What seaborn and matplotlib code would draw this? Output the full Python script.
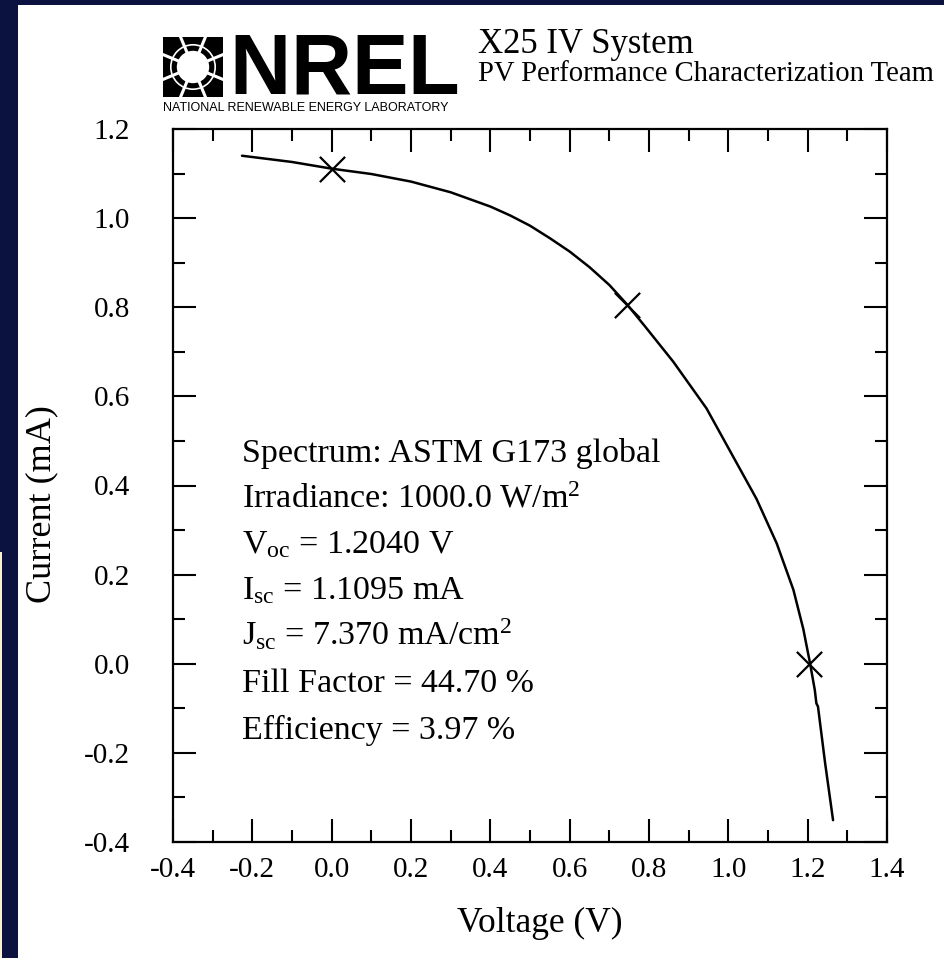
import numpy as np
import pandas as pd
import matplotlib
matplotlib.use("Agg")
import matplotlib.pyplot as plt
import seaborn as sns
from matplotlib.patches import Rectangle, Circle
from matplotlib.ticker import MultipleLocator, FormatStrFormatter

# ---------------- data ----------------
voltage = [-0.226, -0.100, 0.000, 0.100, 0.200, 0.300, 0.400, 0.450, 0.500,
           0.550, 0.600, 0.650, 0.700, 0.745, 0.790, 0.861, 0.945, 1.012,
           1.071, 1.122, 1.164, 1.189, 1.206, 1.218, 1.222, 1.226, 1.244,
           1.264]
current = [1.140, 1.126, 1.111, 1.099, 1.082, 1.058, 1.026, 1.006, 0.983,
           0.955, 0.925, 0.890, 0.850, 0.806, 0.757, 0.678, 0.573, 0.465,
           0.370, 0.270, 0.166, 0.078, 0.001, -0.059, -0.089, -0.096,
           -0.223, -0.351]

marker_v = [0.0, 0.745, 1.204]      # Isc, Pmax, Voc points
marker_i = [1.1095, 0.805, 0.0]

x_ticks = [-0.4, -0.2, 0.0, 0.2, 0.4, 0.6, 0.8, 1.0, 1.2, 1.4]
y_ticks = [-0.4, -0.2, 0.0, 0.2, 0.4, 0.6, 0.8, 1.0, 1.2]

info_lines = [
    "Spectrum: ASTM G173 global",
    r"Irradiance: 1000.0 W/m$^{2}$",
    r"V$_{\mathrm{oc}}$ = 1.2040 V",
    r"I$_{\mathrm{sc}}$ = 1.1095 mA",
    r"J$_{\mathrm{sc}}$ = 7.370 mA/cm$^{2}$",
    "Fill Factor = 44.70 %",
    "Efficiency = 3.97 %",
]
info_baselines = [462, 507, 553, 599, 645, 692, 739]   # pixel rows

# ---------------- style ----------------
sns.set_theme(style="ticks")
plt.rcParams["font.family"] = ["Liberation Serif", "DejaVu Serif"]
plt.rcParams["mathtext.fontset"] = "custom"
plt.rcParams["mathtext.rm"] = "Liberation Serif"
plt.rcParams["mathtext.it"] = "Liberation Serif:italic"
plt.rcParams["mathtext.bf"] = "Liberation Serif:bold"
plt.rcParams["mathtext.sf"] = "Liberation Sans:bold"
plt.rcParams["axes.unicode_minus"] = False

W, H = 944, 958
navy = "#0b1240"
fig = plt.figure(figsize=(W / 100, H / 100), dpi=100)
fig.patch.set_facecolor("white")

def fx(px):
    return px / W

def fy(py):
    return 1 - py / H

# dark frame strips
fig.add_artist(Rectangle((0, 0), fx(17.5), 1, transform=fig.transFigure,
                         facecolor=navy, edgecolor="none", zorder=0))
fig.add_artist(Rectangle((0, fy(5)), 1, 5 / H, transform=fig.transFigure,
                         facecolor=navy, edgecolor="none", zorder=0))
fig.add_artist(Rectangle((0, 0), fx(1.5), fy(552), transform=fig.transFigure,
                         facecolor="#f7f1d2", edgecolor="none", zorder=1))

# ---------------- main axes ----------------
ax = fig.add_axes([fx(173), fy(842), (887 - 173) / W, (842 - 129) / H])
ax.set_facecolor("white")

df = pd.DataFrame({"Voltage": voltage, "Current": current})
sns.lineplot(data=df, x="Voltage", y="Current", sort=False, estimator=None,
             color="black", linewidth=1.8, ax=ax)
sns.scatterplot(x=marker_v, y=marker_i, marker="x", s=330, color="black",
                linewidth=1.6, ax=ax, zorder=4)

ax.set_xlim(-0.4, 1.4)
ax.set_ylim(-0.4, 1.2)
ax.set_xticks(x_ticks)
ax.set_yticks(y_ticks)
ax.xaxis.set_minor_locator(MultipleLocator(0.1))
ax.yaxis.set_minor_locator(MultipleLocator(0.1))
ax.xaxis.set_major_formatter(FormatStrFormatter("%.1f"))
ax.yaxis.set_major_formatter(FormatStrFormatter("%.1f"))

ax.tick_params(which="both", direction="in", top=True, right=True,
               width=1.5, color="black", labelcolor="black")
ax.tick_params(which="major", length=16.5)
ax.tick_params(which="minor", length=8.3)
ax.tick_params(axis="x", labelsize=21, pad=11)
ax.tick_params(axis="y", labelsize=21, pad=31)
for s in ax.spines.values():
    s.set_linewidth(1.6)
    s.set_color("black")

ax.set_xlabel("Voltage (V)", fontsize=25.5, color="black")
ax.set_ylabel("Current (mA)", fontsize=26, color="black")
ax.xaxis.set_label_coords(0.514, -0.091)
ax.yaxis.set_label_coords(-0.160, 0.474)

# ---------------- info text block ----------------
for line, by in zip(info_lines, info_baselines):
    fig.text(fx(242), fy(by), line, fontsize=24.5, va="baseline", ha="left",
             color="black")

# ---------------- header ----------------
fig.text(fx(478), fy(53), "X25 IV System", fontsize=25, va="baseline",
         color="black")
fig.text(fx(478), fy(81), "PV Performance Characterization Team",
         fontsize=20.6, va="baseline", color="black")

fig.text(fx(229), fy(94), r"$\mathsf{NREL}$", fontsize=61,
         va="baseline", color="black")
fig.text(fx(163), fy(111), "NATIONAL RENEWABLE ENERGY LABORATORY",
         fontsize=9.0, family=["Liberation Sans", "DejaVu Sans"],
         va="baseline", color="black")

# logo icon (decoration)
lax = fig.add_axes([fx(163), fy(97), 60 / W, 60 / H])
lax.set_xlim(0, 1)
lax.set_ylim(0, 1)
lax.axis("off")
lax.add_patch(Rectangle((0, 0), 1, 1, facecolor="black", edgecolor="none"))
lax.add_patch(Circle((0.5, 0.5), 0.27, facecolor="white", edgecolor="none"))
for k in range(8):
    a = np.deg2rad(22.5 + 45 * k)
    lax.plot([0.5, 0.5 + 0.9 * np.cos(a)], [0.5, 0.5 + 0.9 * np.sin(a)],
             color="white", linewidth=2.2, solid_capstyle="butt")
lax.add_patch(Circle((0.5, 0.5), 0.37, facecolor="none", edgecolor="white",
                     linewidth=1.2))

fig.savefig("out.png", dpi=100, facecolor=fig.get_facecolor())
